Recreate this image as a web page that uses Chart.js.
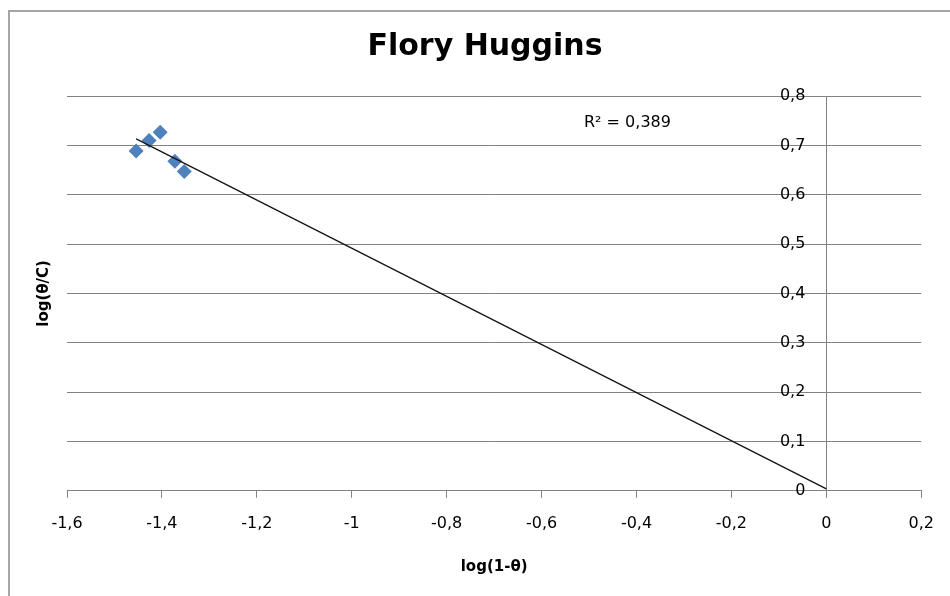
<!DOCTYPE html>
<html>
<head>
<meta charset="utf-8">
<title>Flory Huggins</title>
<script src="https://cdn.jsdelivr.net/npm/chart.js@4/dist/chart.umd.min.js"></script>
<style>
  html, body { margin: 0; padding: 0; background: #ffffff; overflow: hidden; }
  #frame {
    position: absolute; left: 8px; top: 10px; width: 1000px; height: 700px;
    border-left: 2px solid #a5a5a5; border-top: 2px solid #a5a5a5;
  }
  #wrap { position: absolute; left: 0; top: 0; width: 950px; height: 596px; }
</style>
</head>
<body>
<div id="frame"></div>
<div id="wrap"><canvas id="chart" width="950" height="596"></canvas></div>
<script>
// Measured points: log(1-θ) against log(θ/C)
const logOneMinusTheta = [-1.4543, -1.427, -1.4037, -1.3727, -1.353];
const logThetaOverC    = [0.6883, 0.7097, 0.7265, 0.6676, 0.647];

// Axis ranges and ticks
const xTicks = [-1.6, -1.4, -1.2, -1.0, -0.8, -0.6, -0.4, -0.2, 0, 0.2];
const yTicks = [0, 0.1, 0.2, 0.3, 0.4, 0.5, 0.6, 0.7, 0.8];
const trendForwardTo = 0;   // linear trendline is extended up to x = 0
const chartTitle = 'Flory Huggins';

// Least-squares linear fit
function linearFit(xs, ys) {
  const n = xs.length;
  const mx = xs.reduce((a, b) => a + b, 0) / n;
  const my = ys.reduce((a, b) => a + b, 0) / n;
  let sxy = 0, sxx = 0, syy = 0;
  for (let i = 0; i < n; i++) {
    sxy += (xs[i] - mx) * (ys[i] - my);
    sxx += (xs[i] - mx) * (xs[i] - mx);
    syy += (ys[i] - my) * (ys[i] - my);
  }
  const slope = sxy / sxx;
  return { slope, intercept: my - slope * mx, r2: (sxy * sxy) / (sxx * syy) };
}

const fit = linearFit(logOneMinusTheta, logThetaOverC);
const xStart = Math.min(...logOneMinusTheta);
const trendPoints = [xStart, trendForwardTo].map(x => ({ x, y: fit.intercept + fit.slope * x }));
const points = logOneMinusTheta.map((x, i) => ({ x, y: logThetaOverC[i] }));

const fmt = v => {
  const r = Math.round(v * 10) / 10;
  return (Object.is(r, -0) ? 0 : r).toString().replace('.', ',');
};

const FONT = '"DejaVu Sans", Verdana, sans-serif';
const GRID = '#828282';
const Y_LABEL_GAP = 21;   // space between the value axis line and its labels

// Chart title and R² annotation
const annotations = {
  id: 'annotations',
  afterDatasetsDraw(chart) {
    const ctx = chart.ctx;
    ctx.save();
    ctx.fillStyle = '#000000';
    ctx.textBaseline = 'middle';

    ctx.font = 'bold 30px ' + FONT;
    ctx.textAlign = 'center';
    ctx.fillText(chartTitle, 485, 47);

    ctx.font = '16px ' + FONT;
    ctx.textAlign = 'left';
    ctx.fillText('R² = ' + fit.r2.toFixed(3).replace('.', ','), 584, 123);
    ctx.restore();
  }
};

// The value axis crosses at x = 0; move its labels a little to the left of the line
const yLabelOffset = {
  id: 'yLabelOffset',
  beforeDraw(chart) {
    const items = chart.scales.y.getLabelItems();
    if (items._shifted) return;
    items.forEach(it => { it.options.translation[0] -= Y_LABEL_GAP; });
    items._shifted = true;
  }
};

new Chart(document.getElementById('chart'), {
  data: {
    datasets: [
      {
        type: 'line',
        label: 'Linear trend',
        data: trendPoints,
        borderColor: '#141414',
        borderWidth: 1.3,
        pointRadius: 0,
        fill: false
      },
      {
        type: 'scatter',
        label: 'log(θ/C)',
        data: points,
        pointStyle: 'rectRot',
        pointRadius: 7.5,
        pointHoverRadius: 7.5,
        backgroundColor: '#4f81bd',
        borderColor: '#4f81bd',
        borderWidth: 0
      }
    ]
  },
  options: {
    responsive: false,
    animation: false,
    layout: { padding: { top: 96, right: 28, bottom: 0, left: 0 } },
    plugins: {
      legend: { display: false },
      tooltip: { enabled: false },
      title: { display: false }
    },
    scales: {
      x: {
        type: 'linear',
        position: 'bottom',
        min: xTicks[0],
        max: xTicks[xTicks.length - 1],
        afterBuildTicks: s => { s.ticks = xTicks.map(v => ({ value: v })); },
        ticks: { callback: v => fmt(v), color: '#000000', font: { family: FONT, size: 16 }, padding: 16, maxRotation: 0 },
        grid: { display: true, drawOnChartArea: false, drawTicks: true, tickLength: 7, color: GRID },
        border: { display: true, color: GRID, width: 1 },
        title: {
          display: true, text: 'log(1-θ)', color: '#000000',
          font: { family: FONT, size: 15, weight: 'bold' },
          padding: { top: 9, bottom: 20 }
        }
      },
      y: {
        type: 'linear',
        position: { x: 0 },
        min: yTicks[0],
        max: yTicks[yTicks.length - 1],
        afterBuildTicks: s => { s.ticks = yTicks.map(v => ({ value: v })); },
        ticks: { callback: v => fmt(v), color: '#000000', font: { family: FONT, size: 16 } },
        grid: { color: GRID, lineWidth: 1, tickLength: 8 },
        border: { display: true, color: GRID, width: 1 }
      },
      yTitle: {
        type: 'linear',
        position: 'left',
        min: 0, max: 0.8,
        ticks: { display: false },
        grid: { display: false },
        border: { display: false },
        title: {
          display: true, text: 'log(θ/C)', color: '#000000',
          font: { family: FONT, size: 15, weight: 'bold' },
          padding: { top: 35, bottom: 6 }
        }
      }
    }
  },
  plugins: [annotations, yLabelOffset]
});
</script>
</body>
</html>
